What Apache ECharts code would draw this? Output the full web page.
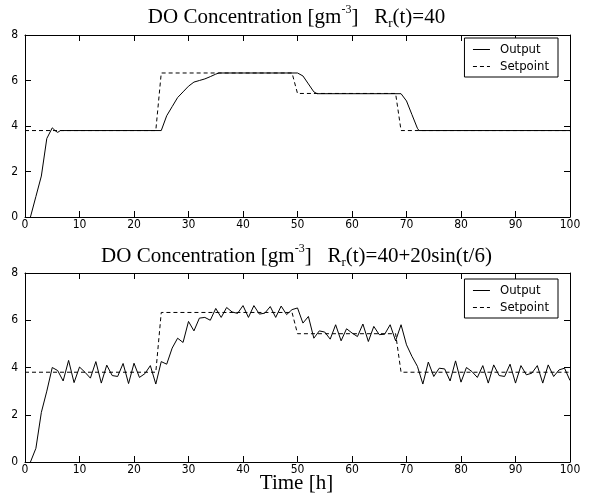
<!DOCTYPE html>
<html>
<head>
<meta charset="utf-8">
<script src="https://cdn.jsdelivr.net/npm/echarts@6/dist/echarts.min.js"></script>
<style>
	html, body { margin: 0; padding: 0; background: #fff; }
	#main { width: 593px; height: 504px; }
</style>
</head>
<body>
<div id="main"></div>
<script>
	// 上图: R_r(t)=40, 输出
	var topOutTime  = [1, 2, 3, 4, 5, 5.6, 6, 6.5, 25, 26, 27, 28, 29, 30, 31, 32, 33, 34, 35, 35.6, 50, 51, 52, 53, 53.6, 69, 70, 71, 72, 72.3, 100];
	var topOutValue = [0, 0.9, 1.8, 3.45, 3.92, 3.78, 3.72, 3.8, 3.8, 4.45, 4.85, 5.25, 5.5, 5.75, 5.93, 6.0, 6.07, 6.17, 6.28, 6.33, 6.33, 6.2, 5.85, 5.5, 5.42, 5.42, 5.1, 4.5, 3.9, 3.8, 3.8];

	// 设定值 (两图相同)
	var setTime  = [0, 24, 25, 49, 50, 68, 69, 100];
	var setValue = [3.8, 3.8, 6.33, 6.33, 5.43, 5.43, 3.8, 3.8];

	// 下图: R_r(t)=40+20sin(t/6), 输出, t = 1..100 h
	var botOutValue = [
		0, 0.58, 2.1, 3.0, 4.0, 3.87, 3.43, 4.3, 3.36, 4.02,
		3.8, 3.55, 4.25, 3.34, 4.1, 3.66, 3.62, 4.17, 3.32, 4.18,
		3.58, 3.74, 4.08, 3.3, 4.25, 4.14, 4.82, 5.24, 5.06, 5.95,
		5.55, 6.09, 6.12, 6.0, 6.5, 6.12, 6.54, 6.35, 6.29, 6.62,
		6.12, 6.62, 6.26, 6.3, 6.58, 6.12, 6.6, 6.24, 6.45, 6.52,
		5.88, 6.16, 5.24, 5.55, 5.5, 5.2, 5.81, 5.13, 5.64, 5.46,
		5.31, 5.84, 5.1, 5.74, 5.39, 5.41, 5.81, 5.13, 5.81, 4.96,
		4.47, 4.05, 3.3, 4.23, 3.62, 3.97, 3.94, 3.43, 4.28, 3.38,
		4.0, 3.83, 3.58, 4.08, 3.34, 4.11, 3.66, 3.62, 4.14, 3.34,
		4.08, 3.69, 3.76, 4.08, 3.34, 4.11, 3.62, 3.9, 3.97, 3.45
	];

	var xTicks = { min: 0, max: 100, interval: 10 };
	var yTicks = { min: 0, max: 8, interval: 2 };
	var legendNames = ['Output', 'Setpoint'];

	var tickFont = "'Liberation Sans Narrow', 'DejaVu Sans Condensed', sans-serif";
	var serifFont = "'Liberation Serif', 'DejaVu Serif', serif";

	function pairs(xs, ys) {
		var out = [];
		for (var i = 0; i < xs.length; i++) {
			out.push([xs[i], ys[i]]);
		}
		return out;
	}
	var botOutData = [];
	for (var i = 0; i < botOutValue.length; i++) {
		botOutData.push([i + 1, botOutValue[i]]);
	}

	function titleRich(tail) {
		return {
			text: '{n|DO Concentration [gm}{sup|-3}{n|]   R}{sub|r}{n|' + tail + '}',
			left: 'center',
			padding: 0,
			textStyle: {
				fontWeight: 'normal',
				rich: {
					n: { fontFamily: serifFont, fontWeight: 'normal', fontSize: 21, lineHeight: 26, color: '#000' },
					sup: { fontFamily: serifFont, fontWeight: 'normal', fontSize: 12, lineHeight: 12, verticalAlign: 'top', color: '#000' },
					sub: { fontFamily: serifFont, fontWeight: 'normal', fontSize: 13, lineHeight: 12, verticalAlign: 'bottom', color: '#000' }
				}
			}
		};
	}

	var axisLine = { show: true, onZero: false, lineStyle: { color: '#000', width: 1 } };
	var axisTick = { show: true, inside: true, length: 6, lineStyle: { color: '#000', width: 1 } };

	function makeX(grid, pos) {
		return {
			type: 'value', gridIndex: grid, position: pos,
			min: xTicks.min, max: xTicks.max, interval: xTicks.interval,
			axisLine: axisLine, axisTick: axisTick, splitLine: { show: false },
			axisLabel: { show: pos == 'bottom', margin: 2, color: '#000', fontFamily: tickFont, fontSize: 12 }
		};
	}
	function makeY(grid, pos) {
		return {
			type: 'value', gridIndex: grid, position: pos,
			min: yTicks.min, max: yTicks.max, interval: yTicks.interval,
			axisLine: axisLine, axisTick: axisTick, splitLine: { show: false },
			axisLabel: { show: pos == 'left', margin: 7, color: '#000', fontFamily: tickFont, fontSize: 12 }
		};
	}
	function makeLegend(top) {
		return {
			data: legendNames, orient: 'vertical', right: 35, top: top,
			itemWidth: 17, itemHeight: 13, itemGap: 4,
			padding: [5, 9, 4, 8],
			borderColor: '#000', borderWidth: 1, backgroundColor: '#fff',
			selectedMode: false,
			itemStyle: { opacity: 0 },
			lineStyle: { width: 1 },
			textStyle: { color: '#000', fontFamily: tickFont, fontSize: 13, padding: [0, 0, 0, 5] }
		};
	}
	function line(name, data, xi, yi, dashed) {
		return {
			name: name, type: 'line', data: data,
			xAxisIndex: xi, yAxisIndex: yi,
			symbol: 'none', animation: false,
			lineStyle: { color: '#000', width: 1, type: dashed ? [4, 3] : 'solid' },
			itemStyle: { color: '#000' }
		};
	}

	var t1 = titleRich('(t)=40');
	t1.top = 4;
	var t2 = titleRich('(t)=40+20sin(t/6)');
	t2.top = 243;

	var option = {
		backgroundColor: '#fff',
		animation: false,
		title: [t1, t2, {
			text: 'Time [h]', left: 'center', top: 473, padding: 0,
			textStyle: { fontFamily: serifFont, fontSize: 21, fontWeight: 'normal', color: '#000' }
		}],
		legend: [makeLegend(38), makeLegend(279)],
		grid: [
			{ left: 25, right: 23, top: 35, height: 182, outerBoundsMode: 'none' },
			{ left: 25, right: 23, top: 273, height: 189, outerBoundsMode: 'none' }
		],
		xAxis: [makeX(0, 'bottom'), makeX(0, 'top'), makeX(1, 'bottom'), makeX(1, 'top')],
		yAxis: [makeY(0, 'left'), makeY(0, 'right'), makeY(1, 'left'), makeY(1, 'right')],
		series: [
			line('Setpoint', pairs(setTime, setValue), 0, 0, true),
			line('Output', pairs(topOutTime, topOutValue), 0, 0, false),
			line('Setpoint', pairs(setTime, setValue), 2, 2, true),
			line('Output', botOutData, 2, 2, false)
		]
	};

	var myChart = echarts.init(document.getElementById('main'));
	myChart.setOption(option);
</script>
</body>
</html>
